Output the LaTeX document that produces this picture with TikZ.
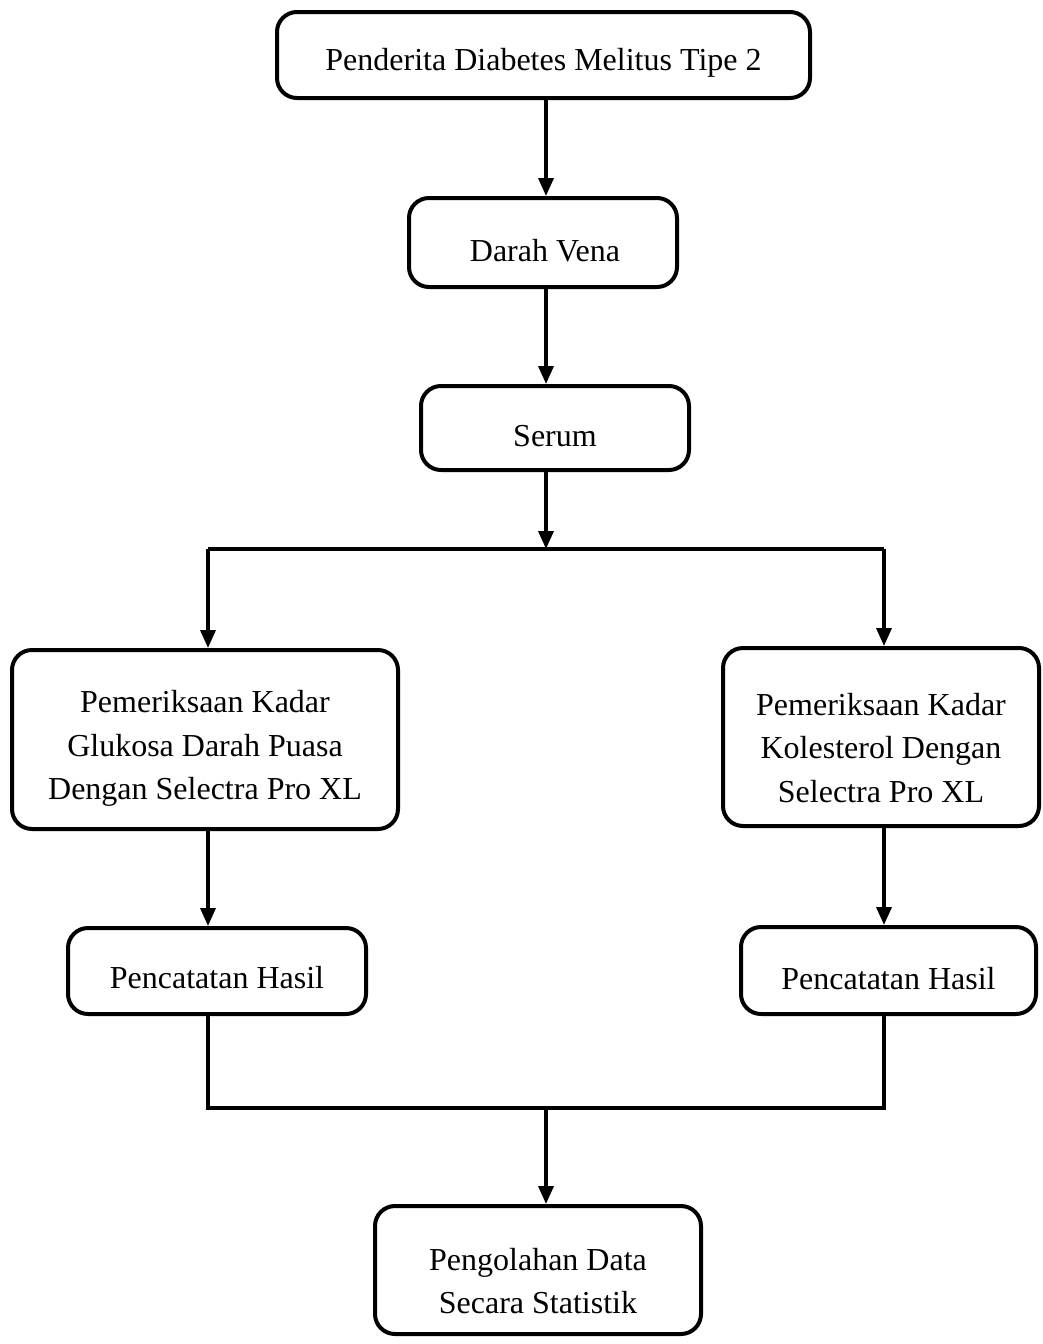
\documentclass[tikz,border=0pt]{standalone}
\usepackage{fontspec}
\setmainfont{Liberation Serif}
\usetikzlibrary{arrows.meta}
\begin{document}
\begin{tikzpicture}[x=1pt,y=-1pt,
  box/.style={draw,line width=4pt,rounded corners=20pt,inner sep=0pt},
  txt/.style={align=center,inner sep=0pt,font=\fontsize{32}{43.5}\selectfont},
  arr/.style={line width=3.5pt,-{Triangle[length=18pt,width=15pt]}},
  ln/.style={line width=3.5pt}]
\useasboundingbox (0,0) rectangle (1043,1344);
\node[box,minimum width=533pt,minimum height=86pt] (b1) at (543.5,55) {};
\node[box,minimum width=268pt,minimum height=89pt] (b2) at (543,242.5) {};
\node[box,minimum width=268pt,minimum height=84pt] (b3) at (555,428) {};
\node[box,minimum width=386pt,minimum height=179pt] (b4) at (205,739.5) {};
\node[box,minimum width=316pt,minimum height=178pt] (b5) at (881,737) {};
\node[box,minimum width=298pt,minimum height=86pt] (b6) at (217,971) {};
\node[box,minimum width=295pt,minimum height=87pt] (b7) at (888.5,970.5) {};
\node[box,minimum width=326pt,minimum height=128pt] (b8) at (538,1270) {};
\node[txt] (t1) at ([yshift=-8pt]b1.center) {Penderita Diabetes Melitus Tipe 2};
\node[txt] (t2) at ([yshift=-8pt,xshift=2pt]b2.center) {Darah Vena};
\node[txt] (t3) at ([yshift=-8pt]b3.center) {Serum};
\node[txt] (t4) at ([yshift=-9pt]b4.center) {Pemeriksaan Kadar\\Glukosa Darah Puasa\\Dengan Selectra Pro XL};
\node[txt] (t5) at ([yshift=-11pt]b5.center) {Pemeriksaan Kadar\\Kolesterol Dengan\\Selectra Pro XL};
\node[txt] (t6) at ([yshift=-7pt]b6.center) {Pencatatan Hasil};
\node[txt] (t7) at ([yshift=-8pt]b7.center) {Pencatatan Hasil};
\node[txt] (t8) at ([yshift=-11pt]b8.center) {Pengolahan Data\\Secara Statistik};
\coordinate (xm) at (546,0);
\coordinate (xl) at (208,0);
\coordinate (xr) at (884,0);
\coordinate (split) at (546,549);
\coordinate (join) at (546,1108);
\draw[arr] (b1.south -| xm) -- (b2.north -| xm);
\draw[arr] (b2.south -| xm) -- (b3.north -| xm);
\draw[arr] (b3.south -| xm) -- (split);
\draw[ln] (split -| xl) -- (split -| xr);
\draw[arr] (split -| xl) -- (b4.north -| xl);
\draw[arr] (split -| xr) -- (b5.north -| xr);
\draw[arr] (b4.south -| xl) -- (b6.north -| xl);
\draw[arr] (b5.south -| xr) -- (b7.north -| xr);
\draw[ln] (b6.south -| xl) -- (join -| xl) -- (join -| xr) -- (b7.south -| xr);
\draw[arr] (join) -- (b8.north -| xm);
\end{tikzpicture}
\end{document}
